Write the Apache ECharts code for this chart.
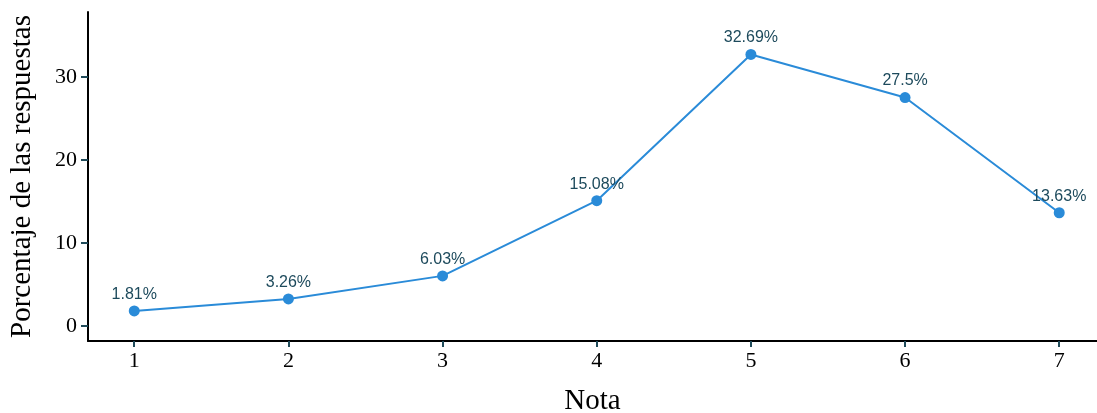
<!DOCTYPE html>
<html><head><meta charset="utf-8">
<script src="https://cdn.jsdelivr.net/npm/echarts@6/dist/echarts.min.js"></script>
<style>html,body{margin:0;padding:0;background:#fff}#c{width:1097px;height:413px}</style>
</head><body><div id="c"></div>
<script>
const notas = [1, 2, 3, 4, 5, 6, 7];
const porcentajes = [1.81, 3.26, 6.03, 15.08, 32.69, 27.5, 13.63];
const yTicks = [0, 10, 20, 30];
const xTicks = [1, 2, 3, 4, 5, 6, 7];

const chart = echarts.init(document.getElementById('c'));
const serif = '"Liberation Serif", "Times New Roman", serif';
chart.setOption({
  animation: false,
  grid: {left: 88, right: 0, top: 12, bottom: 72, containLabel: false, outerBoundsMode: 'none'},
  xAxis: {
    type: 'value', min: 0.7, max: 7.245,
    name: 'Nota', nameLocation: 'middle', nameGap: 46,
    nameTextStyle: {fontFamily: serif, fontSize: 29, color: '#000'},
    axisLine: {show: true, onZero: false, lineStyle: {color: '#000', width: 2}},
    axisTick: {show: true, length: 6, customValues: xTicks, lineStyle: {color: '#1f4a59', width: 2}},
    axisLabel: {customValues: xTicks, fontFamily: serif, fontSize: 22, color: '#000', margin: 9},
    splitLine: {show: false}
  },
  yAxis: {
    type: 'value', min: -1.81, max: 37.8,
    name: 'Porcentaje de las respuestas', nameLocation: 'middle', nameGap: 51,
    nameTextStyle: {fontFamily: serif, fontSize: 29, color: '#000'},
    axisLine: {show: true, onZero: false, lineStyle: {color: '#000', width: 2}},
    axisTick: {show: true, length: 7, customValues: yTicks, lineStyle: {color: '#1f4a59', width: 2}},
    axisLabel: {customValues: yTicks, fontFamily: serif, fontSize: 22, color: '#000', margin: 11},
    splitLine: {show: false}
  },
  series: [{
    type: 'line',
    data: notas.map((n, i) => [n, porcentajes[i]]),
    symbol: 'circle', symbolSize: 11,
    lineStyle: {color: '#2a8bd8', width: 2},
    itemStyle: {color: '#2a8bd8'},
    label: {show: true, position: 'top', distance: 3, formatter: p => p.value[1] + '%',
      fontFamily: '"Liberation Sans", Arial, sans-serif', fontSize: 16, color: '#1d4a5c'}
  }]
});
</script></body></html>
